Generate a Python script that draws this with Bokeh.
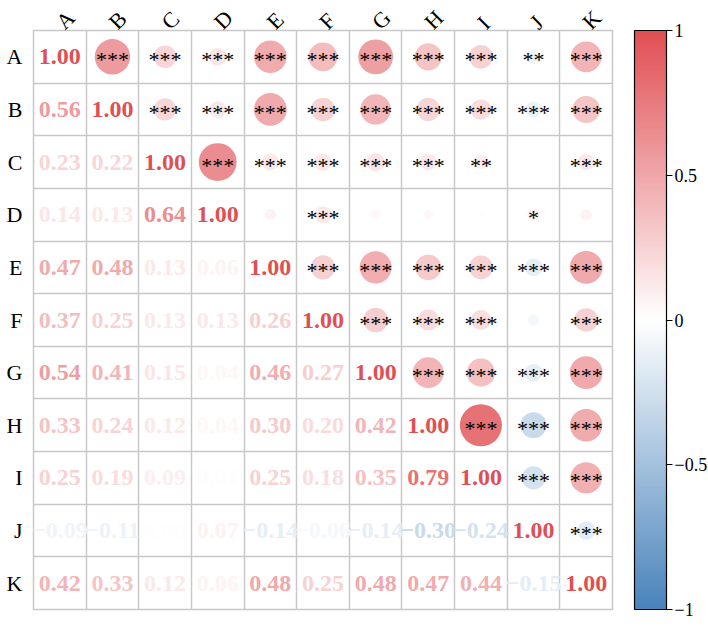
import math
import numpy as np
from bokeh.plotting import figure
from bokeh.models import Range1d, FixedTicker, LinearColorMapper, ColorBar, ColumnDataSource
from bokeh.embed import file_html
from bokeh.resources import INLINE
from bokeh.core.properties import value

labels = ["A", "B", "C", "D", "E", "F", "G", "H", "I", "J", "K"]

# lower triangle correlations (row i, columns 0..i-1)
lower = [
    [],
    [0.56],
    [0.23, 0.22],
    [0.14, 0.13, 0.64],
    [0.47, 0.48, 0.13, 0.06],
    [0.37, 0.25, 0.13, 0.13, 0.26],
    [0.54, 0.41, 0.15, 0.04, 0.46, 0.27],
    [0.33, 0.24, 0.12, 0.04, 0.30, 0.20, 0.42],
    [0.25, 0.19, 0.09, 0.01, 0.25, 0.18, 0.35, 0.79],
    [-0.09, -0.11, 0.00, 0.07, -0.14, -0.06, -0.14, -0.30, -0.24],
    [0.42, 0.33, 0.12, 0.06, 0.48, 0.25, 0.48, 0.47, 0.44, -0.15],
]

# significance stars, upper triangle (row i, columns i+1..)
stars = [
    ["***", "***", "***", "***", "***", "***", "***", "***", "**", "***"],
    ["***", "***", "***", "***", "***", "***", "***", "***", "***"],
    ["***", "***", "***", "***", "***", "**", "", "***"],
    ["", "***", "", "", "", "*", ""],
    ["***", "***", "***", "***", "***", "***"],
    ["***", "***", "***", "", "***"],
    ["***", "***", "***", "***"],
    ["***", "***", "***"],
    ["***", "***"],
    ["***"],
    [],
]

cbar_ticks = [-1, -0.5, 0, 0.5, 1]
cbar_tick_labels = ["\u22121", "\u22120.5", "0", "0.5", "1"]

RED = (224, 78, 83)
BLUE = (72, 131, 187)
N = 200


def mix(c, t):
    return "#%02x%02x%02x" % tuple(int(round(255 + (ci - 255) * t)) for ci in c)


palette = []
for k in range(N):
    v = -1 + 2 * (k + 0.5) / N
    palette.append(mix(RED, v) if v >= 0 else mix(BLUE, -v))


def color_of(v):
    idx = min(N - 1, max(0, int((v + 1) / 2 * N)))
    return palette[idx]


n = len(labels)
R = np.eye(n)
for i in range(n):
    for j, v in enumerate(lower[i]):
        R[i, j] = v
        R[j, i] = v

# lower + diagonal numbers
tx, ty, tt, tc = [], [], [], []
for i in range(n):
    for j in range(i + 1):
        v = R[i, j]
        tx.append(j + 0.5)
        ty.append(i + 0.5)
        s = "%.2f" % abs(v)
        tt.append(("\u2212" + s) if v < 0 else s)
        tc.append(color_of(v))
num_src = ColumnDataSource(dict(x=tx, y=ty, t=tt, c=tc))

# upper circles + stars
cx, cy, cr, cc, st = [], [], [], [], []
for i in range(n):
    for k, j in enumerate(range(i + 1, n)):
        v = R[i, j]
        cx.append(j + 0.5)
        cy.append(i + 0.5)
        cr.append(0.45 * math.sqrt(abs(v)))
        cc.append(color_of(v))
        st.append(stars[i][k])
circ_src = ColumnDataSource(dict(x=cx, y=cy, r=cr, c=cc, s=st))

p = figure(frame_width=579, frame_height=579, x_range=Range1d(0, n), y_range=Range1d(n, 0),
           x_axis_location="above", output_backend="svg", toolbar_location=None,
           min_border_left=33, min_border_top=40, min_border_right=96, min_border_bottom=24)
p.margin = (-10, 0, 0, 0)

p.background_fill_color = "white"
p.outline_line_color = "#c8c8c8"
p.outline_line_width = 1.5

for g in (p.xgrid, p.ygrid):
    g.ticker = FixedTicker(ticks=list(range(n + 1)))
    g.grid_line_color = "#c8c8c8"
    g.grid_line_width = 1.5

centers = [k + 0.5 for k in range(n)]
for ax in (p.xaxis[0], p.yaxis[0]):
    ax.ticker = FixedTicker(ticks=centers)
    ax.major_label_overrides = {c: l for c, l in zip(centers, labels)}
    ax.axis_line_color = None
    ax.major_tick_line_color = None
    ax.minor_tick_line_color = None
    ax.major_tick_out = 0
    ax.major_tick_in = 0
    ax.minor_tick_out = 0
    ax.major_label_text_font = "Liberation Serif"
    ax.major_label_text_font_size = "22px"
    ax.major_label_text_color = "black"
p.xaxis[0].major_label_orientation = math.pi / 4
p.xaxis[0].major_label_standoff = 5
p.yaxis[0].major_label_standoff = 11

p.circle(x="x", y="y", radius="r", fill_color="c", line_color=None, source=circ_src)
p.text(x="x", y="y", text="s", text_color="black", text_font=value("Liberation Serif"),
       text_font_size="22px", text_align="center", text_baseline="middle", y_offset=3,
       source=circ_src)
p.text(x="x", y="y", text="t", text_color="c", text_font=value("Liberation Serif"),
       text_font_style="bold", text_font_size="24px", text_align="center",
       text_baseline="middle", source=num_src)

mapper = LinearColorMapper(palette=palette, low=-1, high=1)
cb = ColorBar(color_mapper=mapper, ticker=FixedTicker(ticks=cbar_ticks),
              major_label_overrides={t: l for t, l in zip(cbar_ticks, cbar_tick_labels)},
              width=32, height=579, padding=0, margin=0, location=(22, 0),
              bar_line_color="black", bar_line_width=1.2,
              major_tick_in=0, major_tick_out=6, major_tick_line_color="black",
              major_label_text_font="Liberation Serif", major_label_text_font_size="18px",
              major_label_text_color="black",
              label_standoff=2, border_line_color=None, background_fill_color=None)
p.add_layout(cb, "right")

open("out.html", "w").write(file_html(p, INLINE))
